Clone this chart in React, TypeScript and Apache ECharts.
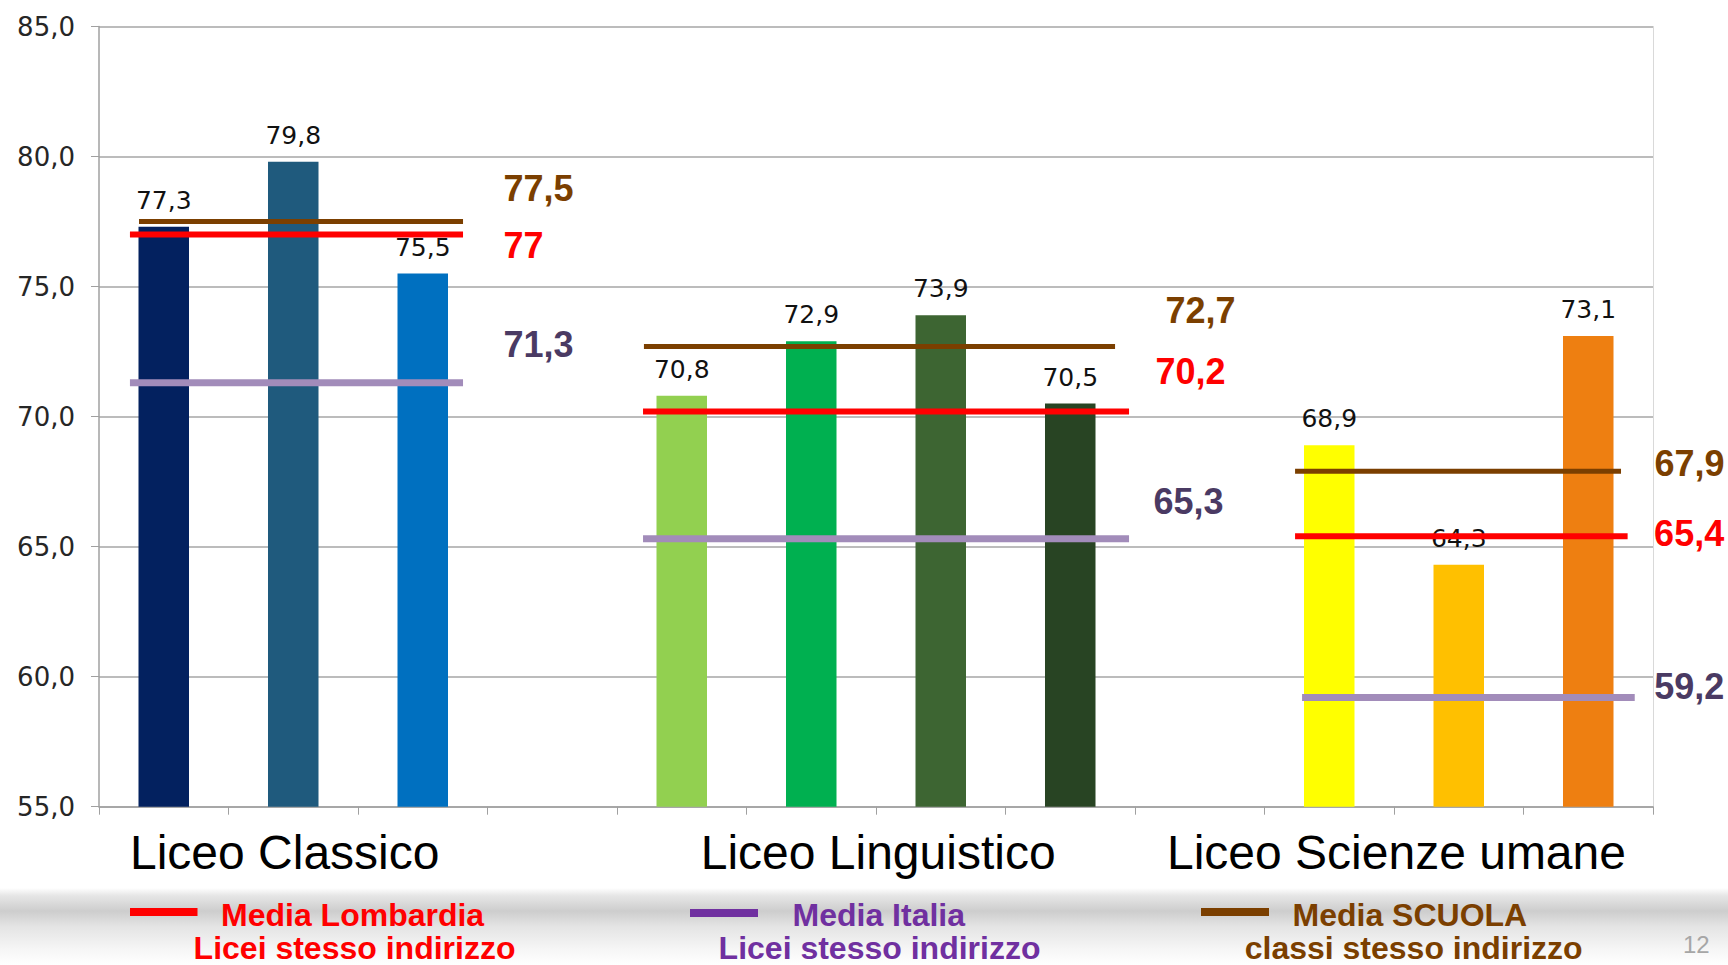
import React, { useEffect, useRef } from "react";
import * as echarts from "echarts";

// ---- data ----
const groupNames = ["Liceo Classico", "Liceo Linguistico", "Liceo Scienze umane"];
const classicoValues = [77.3, 79.8, 75.5];
const linguisticoValues = [70.8, 72.9, 73.9, 70.5];
const scienzeValues = [68.9, 64.3, 73.1];
const mediaLombardia = [77, 70.2, 65.4];
const mediaItalia = [71.3, 65.3, 59.2];
const mediaScuola = [77.5, 72.7, 67.9];
const yMin = 55;
const yMax = 85;
const yStep = 5;

// ---- styles / layout ----
const groupValues = [classicoValues, linguisticoValues, scienzeValues];
const groupColors = [
  ["#03215F", "#1F5A7D", "#0070C0"],
  ["#92D050", "#00B050", "#3D6532", "#284423"],
  ["#FFFF00", "#FFC000", "#EE7F11"],
];
// segment extents in slot units (hidden value axis 0..12)
const spanLombardia = [[0.239, 2.811], [4.201, 7.954], [9.236, 11.804]];
const spanItalia = [[0.239, 2.811], [4.201, 7.954], [9.29, 11.859]];
const spanScuola = [[0.309, 2.811], [4.208, 7.846], [9.236, 11.753]];
// label offsets from segment end, px
const offLombardia = [[40, 10.5], [26, -39.6], [26, -3]];
const offItalia = [[40, -38.7], [24, -37], [19, -11]];
const offScuola = [[40, -33.5], [50, -35.6], [33, -8]];

const fmt = (v: number) => String(v).replace(".", ",");

export default function App() {
  const ref = useRef<HTMLDivElement>(null);

  useEffect(() => {
    if (!ref.current) return;
    const chart = echarts.init(ref.current, undefined, { renderer: "svg" });

    const slotNames: string[] = [];
    const barData: any[] = [];
    groupValues.forEach((vals, g) => {
      if (g > 0) {
        slotNames.push("gap" + g);
        barData.push("-");
      }
      vals.forEach((v, i) => {
        slotNames.push(groupNames[g] + " " + (i + 1));
        barData.push({ value: v, itemStyle: { color: groupColors[g][i] } });
      });
    });

    const refDefs = [
      { name: "Media SCUOLA", values: mediaScuola, spans: spanScuola, offsets: offScuola, line: "#7B3F00", label: "#7B3F00", width: 5 },
      { name: "Media Lombardia", values: mediaLombardia, spans: spanLombardia, offsets: offLombardia, line: "#FF0000", label: "#FF0000", width: 6 },
      { name: "Media Italia", values: mediaItalia, spans: spanItalia, offsets: offItalia, line: "#A28CBA", label: "#4A3A63", width: 7 },
    ];

    const lineSeries: any[] = [];
    const labelData: any[] = [];
    refDefs.forEach((d) => {
      d.values.forEach((v, g) => {
        const [s0, s1] = d.spans[g];
        lineSeries.push({
          type: "line",
          name: d.name,
          xAxisIndex: 1,
          yAxisIndex: 0,
          data: [[s0, v], [s1, v]],
          symbol: "none",
          silent: true,
          z: 3,
          lineStyle: { color: d.line, width: d.width, cap: "butt", opacity: 1 },
        });
        labelData.push({
          value: [s1, v],
          label: { offset: d.offsets[g], color: d.label },
        });
      });
    });

    const labelFont = '"Liberation Sans", Arial, sans-serif';

    const option: any = {
      animation: false,
      backgroundColor: "#ffffff",
      grid: { left: 99, right: 75, top: 26.5, bottom: 158.3, outerBoundsMode: "none" },
      xAxis: [
        {
          type: "category",
          data: slotNames,
          boundaryGap: true,
          axisLine: { lineStyle: { color: "#a0a0a0", width: 1.5 } },
          axisTick: { show: true, interval: 0, length: 8, lineStyle: { color: "#a0a0a0" } },
          axisLabel: { show: false },
          splitLine: { show: false },
        },
        { type: "value", min: 0, max: 12, show: false },
      ],
      yAxis: [
        {
          type: "value",
          min: yMin,
          max: yMax,
          interval: yStep,
          axisLine: { show: true, lineStyle: { color: "#a0a0a0", width: 1.5 } },
          axisTick: { show: true, length: 8, lineStyle: { color: "#a0a0a0" } },
          axisLabel: {
            formatter: (v: number) => v.toFixed(1).replace(".", ","),
            fontFamily: "DejaVu Sans",
            fontSize: 26,
            color: "#262626",
            margin: 24,
          },
          splitLine: { lineStyle: { color: "#a6a6a6", width: 1.5 } },
        },
        {
          type: "value",
          position: "right",
          min: yMin,
          max: yMax,
          interval: yStep,
          axisLine: { show: true, lineStyle: { color: "#d9d9d9" } },
          axisTick: { show: false },
          axisLabel: { show: false },
          splitLine: { show: false },
        },
      ],
      series: [
        {
          type: "bar",
          data: barData,
          barWidth: "39%",
          silent: true,
          z: 2,
          label: {
            show: true,
            position: "top",
            distance: 14,
            formatter: (p: any) => fmt(p.value),
            fontFamily: "DejaVu Sans",
            fontSize: 25,
            color: "#111111",
          },
        },
        ...lineSeries,
        {
          type: "scatter",
          xAxisIndex: 1,
          yAxisIndex: 0,
          data: labelData,
          symbolSize: 1,
          silent: true,
          z: 4,
          itemStyle: { color: "rgba(0,0,0,0)", opacity: 1 },
          label: {
            show: true,
            position: "right",
            distance: 0,
            opacity: 1,
            formatter: (p: any) => fmt(p.value[1]),
            fontFamily: labelFont,
            fontWeight: "bold",
            fontSize: 36,
          },
        },
      ],
      graphic: [
        {
          type: "rect",
          z: 0,
          silent: true,
          shape: { x: 0, y: 888, width: 1728, height: 77 },
          style: {
            fill: new echarts.graphic.LinearGradient(0, 0, 0, 1, [
              { offset: 0, color: "#ffffff" },
              { offset: 0.1, color: "#e6e6e6" },
              { offset: 0.3, color: "#cdcdcd" },
              { offset: 0.5, color: "#e4e4e4" },
              { offset: 0.8, color: "#f6f6f6" },
              { offset: 1, color: "#ffffff" },
            ]),
          },
        },
        ...[
          [groupNames[0], 130],
          [groupNames[1], 700.7],
          [groupNames[2], 1167],
        ].map(([t, x]) => ({
          type: "text",
          z: 2,
          x: x as number,
          y: 852,
          style: {
            text: t as string,
            font: '48px "Liberation Sans", Arial, sans-serif',
            fill: "#000000",
            align: "left",
            verticalAlign: "middle",
          },
        })),
        ...[
          { x1: 130, x2: 197.5, y: 912, c: "#FF0000" },
          { x1: 690, x2: 758, y: 913, c: "#7030A0" },
          { x1: 1201, x2: 1269, y: 912, c: "#7B3F00" },
        ].map((l) => ({
          type: "line",
          z: 2,
          shape: { x1: l.x1, y1: l.y, x2: l.x2, y2: l.y },
          style: { stroke: l.c, lineWidth: 8 },
        })),
        ...[
          { t: "Media Lombardia", x: 221, y: 915, c: "#FF0000" },
          { t: "Licei stesso indirizzo", x: 193.6, y: 948, c: "#FF0000" },
          { t: "Media Italia", x: 792.5, y: 915, c: "#7030A0" },
          { t: "Licei stesso indirizzo", x: 718.6, y: 948, c: "#7030A0" },
          { t: "Media SCUOLA", x: 1292.5, y: 915, c: "#7B3F00" },
          { t: "classi stesso indirizzo", x: 1244.7, y: 948, c: "#7B3F00" },
        ].map((s) => ({
          type: "text",
          z: 2,
          x: s.x,
          y: s.y,
          style: {
            text: s.t,
            font: 'bold 32px "Liberation Sans", Arial, sans-serif',
            fill: s.c,
            align: "left",
            verticalAlign: "middle",
          },
        })),
        {
          type: "text",
          z: 2,
          x: 1683,
          y: 944,
          style: {
            text: "12",
            font: '24px "Liberation Sans", Arial, sans-serif',
            fill: "#a6a6a6",
            align: "left",
            verticalAlign: "middle",
          },
        },
      ],
    };

    chart.setOption(option);
    return () => chart.dispose();
  }, []);

  return (
    <div
      ref={ref}
      style={{ position: "absolute", left: 0, top: 0, width: 1728, height: 965, background: "#fff" }}
    />
  );
}
